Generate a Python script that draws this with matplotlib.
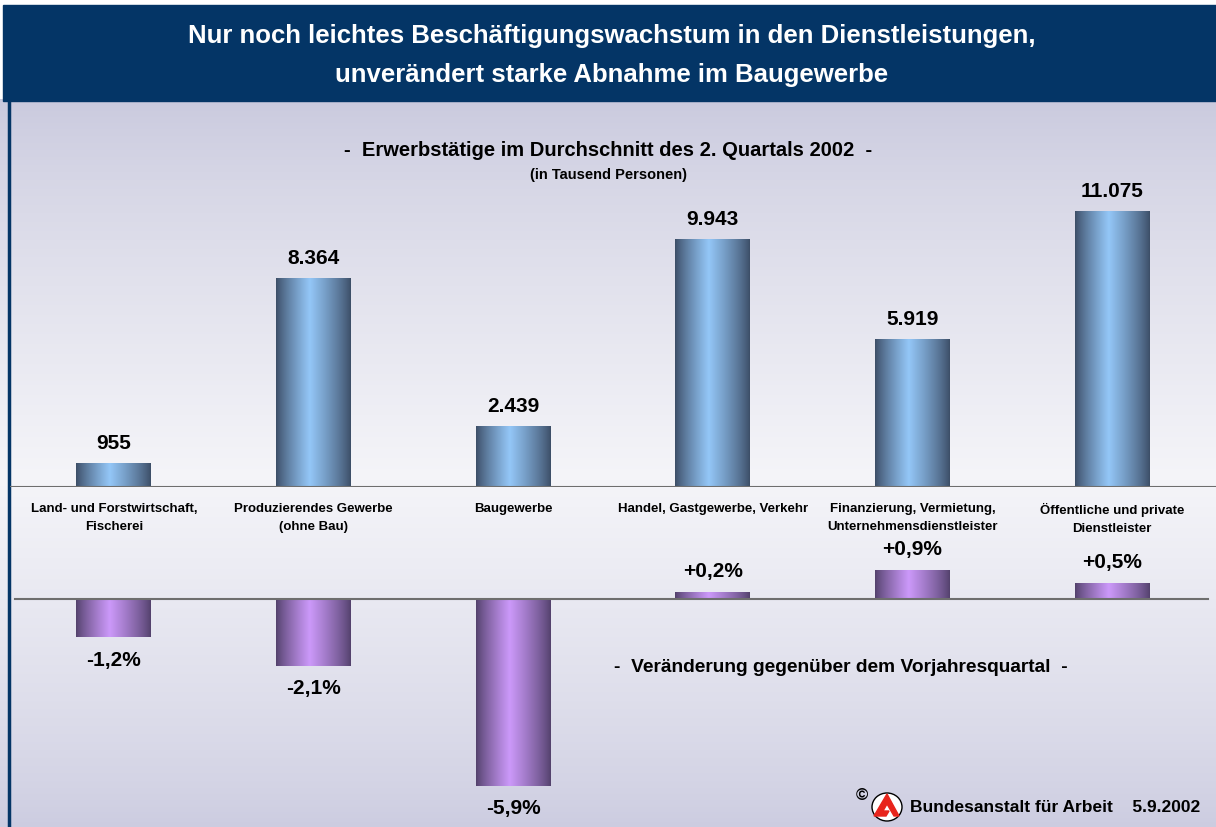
import matplotlib.pyplot as plt
import numpy as np
from matplotlib.patches import Rectangle, Ellipse, Polygon

plt.rcParams['font.family'] = ['Liberation Sans', 'DejaVu Sans']

# data
categories = ["Land- und Forstwirtschaft,\nFischerei",
              "Produzierendes Gewerbe\n(ohne Bau)",
              "Baugewerbe",
              "Handel, Gastgewerbe, Verkehr",
              "Finanzierung, Vermietung,\nUnternehmensdienstleister",
              "Öffentliche und private\nDienstleister"]
employed = [955, 8364, 2439, 9943, 5919, 11075]
employed_labels = ["955", "8.364", "2.439", "9.943", "5.919", "11.075"]
change = [-1.2, -2.1, -5.9, 0.2, 0.9, 0.5]
change_labels = ["-1,2%", "-2,1%", "-5,9%", "+0,2%", "+0,9%", "+0,5%"]

W, H = 1216, 828
fig = plt.figure(figsize=(W / 100, H / 100), dpi=100)

# background: frame, title band, gradient
bg = fig.add_axes([0, 0, 1, 1])
bg.set_xlim(0, W)
bg.set_ylim(H, 0)
bg.axis('off')
yy = np.linspace(0, 1, 300)[:, None]
c_top = np.array([0.79, 0.79, 0.87])
c_mid = np.array([0.96, 0.96, 0.975])
c_bot = np.array([0.80, 0.80, 0.88])
mid = 0.52
w_ = np.where(yy < mid, yy / mid, (1 - yy) / (1 - mid))
w_ = w_ ** 0.8
grad = np.where(yy < mid, 1, 0)[..., None] * (c_top + (c_mid - c_top) * w_[..., None]) + \
       np.where(yy >= mid, 1, 0)[..., None] * (c_bot + (c_mid - c_bot) * w_[..., None])
grad = np.repeat(grad, 2, axis=1)
bg.imshow(grad, extent=[0, W, H, 100], aspect='auto', zorder=0)
bg.add_patch(Rectangle((3, 6), W - 3, 96, color='#043566', zorder=1))
bg.plot([9, 9], [100, H], color='#043566', lw=2.5, zorder=2)

bg.text(612, 36, "Nur noch leichtes Beschäftigungswachstum in den Dienstleistungen,",
        color='white', fontsize=18.5, fontweight='bold', ha='center', va='center')
bg.text(612, 75, "unverändert starke Abnahme im Baugewerbe",
        color='white', fontsize=18.5, fontweight='bold', ha='center', va='center')
bg.text(608, 151, "-  Erwerbstätige im Durchschnitt des 2. Quartals 2002  -",
        fontsize=14.5, fontweight='bold', ha='center', va='center')
bg.text(609, 175, "(in Tausend Personen)", fontsize=10.5, fontweight='bold',
        ha='center', va='center')
bg.text(841, 668, "-  Veränderung gegenüber dem Vorjahresquartal  -",
        fontsize=13.8, fontweight='bold', ha='center', va='center')

# footer with logo
bg.text(862, 796, "©", fontsize=12, fontweight='bold', ha='center', va='center')
bg.add_patch(Ellipse((887, 808), 30, 28, facecolor='white', edgecolor='black', lw=1, zorder=3))
bg.add_patch(Polygon([[874, 817], [887, 795], [899, 817], [894, 817], [887, 805],
                      [883, 812], [889, 812], [886, 817]], closed=True,
                     color='#e8241c', zorder=4))
bg.text(910, 808, "Bundesanstalt für Arbeit    5.9.2002", fontsize=12.5,
        fontweight='bold', ha='left', va='center')

# bar geometry
px_left, px_right = 10, W
centers_px = 114
step = 199.6
bar_w = 75 / step
xlim = ((px_left - centers_px) / step, (px_right - centers_px) / step)


def shade(dark, light, n=80):
    t = np.linspace(0, 1, n)
    v = np.where(t < 0.45, t / 0.45, (1 - t) / 0.55) ** 0.85
    dark = np.array(dark)
    light = np.array(light)
    return (dark[None, :] + (light - dark)[None, :] * v[:, None])[None, :, :]


blue = shade([0.24, 0.31, 0.41], [0.58, 0.78, 0.97])
purple = shade([0.33, 0.26, 0.43], [0.80, 0.60, 0.98])

x = np.arange(len(categories))

# upper panel: employed persons
top_px, base1_px = 110, 488
ax1 = fig.add_axes([px_left / W, 1 - base1_px / H, (px_right - px_left) / W,
                    (base1_px - top_px) / H])
ax1.axis('off')
scale1 = 276 / 11075
for i, v in enumerate(employed):
    ax1.imshow(blue, extent=[x[i] - bar_w / 2, x[i] + bar_w / 2, 0, v],
               aspect='auto', zorder=2)
    ax1.annotate(employed_labels[i], (x[i], v), xytext=(0, 8), textcoords='offset points',
                 ha='center', va='bottom', fontsize=15, fontweight='bold')
    ax1.annotate(categories[i], (x[i], 0), xytext=(0, -11), textcoords='offset points',
                 ha='center', va='top', fontsize=9.5, fontweight='bold',
                 linespacing=1.65, annotation_clip=False)
ax1.axhline(0, color='#6e6e6e', lw=1.5, zorder=3)
ax1.set_xlim(*xlim)
ax1.set_ylim(0, (base1_px - top_px) / scale1)

# lower panel: change vs previous year
base2_px, top2_px = 600, 540
ax2 = fig.add_axes([px_left / W, 0, (px_right - px_left) / W, (H - top2_px) / H])
ax2.axis('off')
scale2 = 187 / 5.9
for i, v in enumerate(change):
    ax2.imshow(purple, extent=[x[i] - bar_w / 2, x[i] + bar_w / 2, min(v, 0), max(v, 0)],
               aspect='auto', zorder=2)
    if v < 0:
        ax2.annotate(change_labels[i], (x[i], v), xytext=(0, -9), textcoords='offset points',
                     ha='center', va='top', fontsize=15, fontweight='bold')
    else:
        ax2.annotate(change_labels[i], (x[i], v), xytext=(0, 9), textcoords='offset points',
                     ha='center', va='bottom', fontsize=15, fontweight='bold')
ax2.axhline(0, xmin=0.004, xmax=0.993, color='#6e6e6e', lw=1.5, zorder=3)
ax2.set_xlim(*xlim)
ax2.set_ylim(-(H - base2_px) / scale2, (base2_px - top2_px) / scale2)

fig.savefig("out.png", dpi=100)
